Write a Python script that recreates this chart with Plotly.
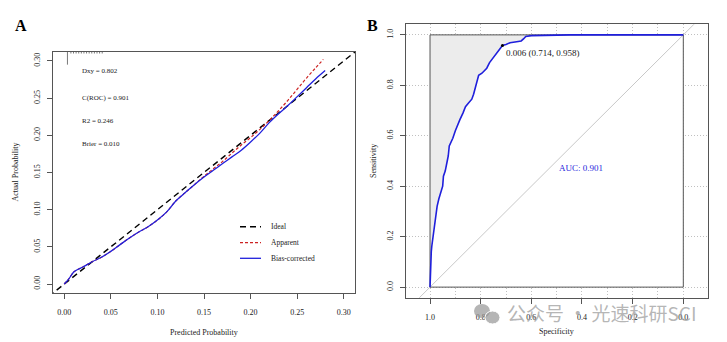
import plotly.graph_objects as go

W, H = 727, 342

# ---------------- Panel A data (calibration) ----------------
cal_pred = [0.0, 0.005, 0.01, 0.015, 0.02, 0.03, 0.04, 0.05, 0.06, 0.07, 0.08, 0.09,
            0.10, 0.11, 0.12, 0.13, 0.14, 0.15, 0.16, 0.17, 0.18, 0.19, 0.20, 0.21,
            0.22, 0.23, 0.24, 0.25, 0.26, 0.27, 0.28]
bias_corrected = [0.0, 0.007, 0.016, 0.020, 0.023, 0.030, 0.036, 0.044, 0.053, 0.062,
                  0.070, 0.077, 0.086, 0.097, 0.112, 0.123, 0.134, 0.144, 0.153, 0.162,
                  0.171, 0.180, 0.191, 0.203, 0.217, 0.229, 0.240, 0.252, 0.264, 0.276, 0.287]
app_pred = [0.0, 0.005, 0.01, 0.015, 0.02, 0.03, 0.04, 0.05, 0.06, 0.07, 0.08, 0.09,
            0.10, 0.11, 0.12, 0.13, 0.14, 0.15, 0.16, 0.17, 0.18, 0.19, 0.20, 0.21,
            0.22, 0.23, 0.24, 0.25, 0.26, 0.27, 0.278]
apparent = [0.0, 0.007, 0.016, 0.020, 0.023, 0.030, 0.036, 0.044, 0.053, 0.062,
            0.070, 0.077, 0.086, 0.097, 0.112, 0.123, 0.134, 0.145, 0.155, 0.165,
            0.176, 0.187, 0.197, 0.208, 0.220, 0.233, 0.247, 0.262, 0.277, 0.291, 0.302]
ideal = [-0.05, 0.35]
rug_x = [0.0035, 0.0072, 0.0100, 0.0128, 0.0156, 0.0184, 0.0212, 0.0240, 0.0268,
         0.0296, 0.0324, 0.0352, 0.0380, 0.0408]
rug_h = [0.0170, 0.0020, 0.0020, 0.0020, 0.0020, 0.0020, 0.0020, 0.0020, 0.0020,
         0.0020, 0.0020, 0.0020, 0.0020, 0.0020]
stats_labels = ["Dxy = 0.802", "C(ROC) = 0.901", "R2 = 0.246", "Brier = 0.010"]
a_ticks = [0.0, 0.05, 0.10, 0.15, 0.20, 0.25, 0.30]
a_ticktext = ["0.00", "0.05", "0.10", "0.15", "0.20", "0.25", "0.30"]
legend_names = ["Ideal", "Apparent", "Bias-corrected"]

# ---------------- Panel B data (ROC) ----------------
roc_spec = [1.0, 0.999, 0.998, 0.995, 0.993, 0.988, 0.983, 0.978, 0.972, 0.965, 0.958,
            0.950, 0.947, 0.940, 0.932, 0.928, 0.924, 0.918, 0.910, 0.900, 0.893, 0.882,
            0.870, 0.860, 0.848, 0.835, 0.828, 0.822, 0.815, 0.808, 0.795, 0.785, 0.776,
            0.765, 0.750, 0.737, 0.724, 0.714, 0.700, 0.684, 0.658, 0.640, 0.630, 0.622,
            0.600, 0.546, 0.500, 0.447, 0.0]
roc_sens = [0.0, 0.06, 0.11, 0.14, 0.162, 0.20, 0.25, 0.28, 0.32, 0.35, 0.375,
            0.40, 0.44, 0.46, 0.50, 0.52, 0.56, 0.571, 0.59, 0.62, 0.64, 0.664,
            0.69, 0.715, 0.73, 0.745, 0.765, 0.789, 0.81, 0.84, 0.848, 0.86, 0.868,
            0.89, 0.91, 0.927, 0.94, 0.958, 0.962, 0.969, 0.973, 0.976, 0.985, 0.994,
            0.997, 0.998, 0.999, 1.0, 1.0]
best_spec, best_sens, best_thr = 0.714, 0.958, 0.006
auc_value = 0.901
box_spec = [1, 0, 0, 1, 1]
box_sens = [0, 0, 1, 1, 0]
diag_spec = [1.2, -0.2]
diag_sens = [-0.2, 1.2]
b_ticks = [1.0, 0.8, 0.6, 0.4, 0.2, 0.0]
b_ticktext = ["1.0", "0.8", "0.6", "0.4", "0.2", "0.0"]
b_yticks = [0.0, 0.2, 0.4, 0.6, 0.8, 1.0]
b_yticktext = ["0.0", "0.2", "0.4", "0.6", "0.8", "1.0"]

SERIF = "Liberation Serif"
BLUE = "#1f1fdc"
RED = "#cc2222"
FRAME = "#555555"
TXT = "#222222"


def fx(p):
    return p / W


def fy(p):
    return 1 - p / H


fig = go.Figure()

# ---- Panel A traces ----
fig.add_trace(go.Scatter(x=ideal, y=ideal, mode="lines", xaxis="x", yaxis="y",
                         line=dict(color="black", width=1.4, dash="6px,4px"), hoverinfo="skip"))
fig.add_trace(go.Scatter(x=app_pred, y=apparent, mode="lines", xaxis="x", yaxis="y",
                         line=dict(color=RED, width=1.2, dash="3px,2px", shape="spline"),
                         hoverinfo="skip"))
fig.add_trace(go.Scatter(x=cal_pred, y=bias_corrected, mode="lines", xaxis="x", yaxis="y",
                         line=dict(color=BLUE, width=1.3, shape="spline"), hoverinfo="skip"))
a_top = 0.312
rx, ry = [], []
for xv, hv in zip(rug_x, rug_h):
    rx += [xv, xv, None]
    ry += [a_top, a_top - hv, None]
fig.add_trace(go.Scatter(x=rx, y=ry, mode="lines", xaxis="x", yaxis="y",
                         line=dict(color="#555555", width=0.8), hoverinfo="skip"))

# ---- Panel B traces ----
fig.add_trace(go.Scatter(x=box_spec, y=box_sens, mode="lines", fill="toself",
                         fillcolor="#ececec", line=dict(width=0), xaxis="x2", yaxis="y2",
                         hoverinfo="skip"))
under_x = roc_spec + [0.0, 1.0]
under_y = roc_sens + [0.0, 0.0]
fig.add_trace(go.Scatter(x=under_x, y=under_y, mode="lines", fill="toself",
                         fillcolor="white", line=dict(width=0), xaxis="x2", yaxis="y2",
                         hoverinfo="skip"))
fig.add_trace(go.Scatter(x=diag_spec, y=diag_sens, mode="lines", xaxis="x2", yaxis="y2",
                         line=dict(color="#c8c8c8", width=1), hoverinfo="skip"))
fig.add_trace(go.Scatter(x=box_spec, y=box_sens, mode="lines", xaxis="x2", yaxis="y2",
                         line=dict(color=FRAME, width=1), hoverinfo="skip"))
fig.add_trace(go.Scatter(x=roc_spec, y=roc_sens, mode="lines", xaxis="x2", yaxis="y2",
                         line=dict(color=BLUE, width=1.6), hoverinfo="skip"))
fig.add_trace(go.Scatter(x=[best_spec], y=[best_sens], mode="markers", xaxis="x2", yaxis="y2",
                         marker=dict(color="black", size=3), hoverinfo="skip"))

tickfont = dict(family=SERIF, size=8, color=TXT)
axA = dict(showline=True, mirror=True, linecolor=FRAME, linewidth=1, ticks="outside",
           ticklen=5, tickcolor=FRAME, tickfont=tickfont, showgrid=False, zeroline=False)
GRID = dict(showgrid=True, gridcolor="#c0c0c0", griddash="1px,2px", gridwidth=1)

fig.update_layout(
    width=W, height=H, margin=dict(l=0, r=0, t=0, b=0),
    paper_bgcolor="white", plot_bgcolor="white", showlegend=False,
    xaxis=dict(domain=[fx(53), fx(355)], range=[-0.012, 0.312], anchor="y",
               tickvals=a_ticks, ticktext=a_ticktext, ticklabelstandoff=6, **axA),
    yaxis=dict(domain=[fy(293), fy(52)], range=[-0.012, 0.312], anchor="x",
               tickvals=a_ticks, ticktext=a_ticktext, tickangle=-90, ticklabelstandoff=4, **axA),
    xaxis2=dict(domain=[fx(405.7), fx(708)], range=[1.096, -0.0975], anchor="y2",
                tickvals=b_ticks, ticktext=b_ticktext, showline=True, mirror=True,
                linecolor=FRAME, linewidth=1, ticks="outside", ticklen=5, tickcolor=FRAME,
                tickfont=tickfont, zeroline=False, ticklabelstandoff=7,
                minor=dict(dtick=0.1, tick0=0, showgrid=True, gridcolor="#c0c0c0",
                           griddash="1px,2px", gridwidth=1, ticks=""), **GRID),
    yaxis2=dict(domain=[fy(297.7), fy(24.3)], range=[-0.042, 1.042], anchor="x2",
                tickvals=b_yticks, ticktext=b_yticktext, tickangle=-90, showline=True,
                mirror=True, linecolor=FRAME, linewidth=1, ticks="outside", ticklen=5,
                tickcolor=FRAME, tickfont=tickfont, zeroline=False, ticklabelstandoff=4,
                **GRID),
)

ann = []
# panel letters
ann.append(dict(x=fx(20.5), y=fy(25.5), text="<b>A</b>", font=dict(family=SERIF, size=16, color="black")))
ann.append(dict(x=fx(373), y=fy(25.5), text="<b>B</b>", font=dict(family=SERIF, size=16, color="black")))
# axis titles
ann.append(dict(x=fx(204), y=fy(332.7), text="Predicted Probability",
                font=dict(family=SERIF, size=8, color=TXT)))
ann.append(dict(x=fx(15), y=fy(172.5), text="Actual Probability", textangle=-90,
                font=dict(family=SERIF, size=8, color=TXT)))
ann.append(dict(x=fx(556.7), y=fy(331.7), text="Specificity",
                font=dict(family=SERIF, size=8, color=TXT)))
ann.append(dict(x=fx(373), y=fy(161), text="Sensitivity", textangle=-90,
                font=dict(family=SERIF, size=8, color=TXT)))
# stats
for lab, yy in zip(stats_labels, [71, 97.5, 120.5, 144]):
    ann.append(dict(x=fx(80), y=fy(yy), text=lab, xanchor="left",
                    font=dict(family=SERIF, size=7, color=TXT)))
# legend text
for lab, yy in zip(legend_names, [226.7, 242.7, 258.3]):
    ann.append(dict(x=fx(269), y=fy(yy), text=lab, xanchor="left",
                    font=dict(family=SERIF, size=7.5, color=TXT)))
# ROC texts
ann.append(dict(x=best_spec, y=best_sens, xref="x2", yref="y2", xanchor="left", yanchor="top",
                xshift=2, yshift=-1,
                text=f"{best_thr:.3f} ({best_spec:.3f}, {best_sens:.3f})",
                font=dict(family=SERIF, size=9, color=TXT)))
ann.append(dict(x=0.5, y=0.5, xref="x2", yref="y2", xanchor="left", yanchor="top",
                text=f"AUC: {auc_value:.3f}", font=dict(family=SERIF, size=9, color=BLUE)))
# watermark
ann.append(dict(x=fx(505), y=fy(312), text="公众号 · 光速科研SCI", xanchor="left",
                font=dict(family="Noto Sans CJK SC", size=19, color="rgba(150,150,150,0.7)")))

for a in ann:
    a.setdefault("xref", "paper")
    a.setdefault("yref", "paper")
    a.setdefault("showarrow", False)
    a.setdefault("xanchor", "center")
    a.setdefault("yanchor", "middle")
fig.update_layout(annotations=ann)

# legend line samples (drawn as shapes in paper coords)
shapes = []
leg_styles = [dict(color="black", width=1.4, dash="6px,4px"),
              dict(color=RED, width=1.2, dash="3px,2px"),
              dict(color=BLUE, width=1.3)]
for st, yy in zip(leg_styles, [226.7, 242.7, 258.3]):
    shapes.append(dict(type="line", xref="paper", yref="paper", x0=fx(240), x1=fx(261),
                       y0=fy(yy), y1=fy(yy), line=st))
# wechat-like icon for watermark
shapes.append(dict(type="circle", xref="paper", yref="paper", x0=fx(474), x1=fx(490),
                   y0=fy(318), y1=fy(304), fillcolor="rgba(150,150,150,0.7)", line=dict(width=0)))
shapes.append(dict(type="circle", xref="paper", yref="paper", x0=fx(485), x1=fx(500),
                   y0=fy(324), y1=fy(311), fillcolor="rgba(150,150,150,0.7)",
                   line=dict(color="white", width=1)))
fig.update_layout(shapes=shapes)

fig.write_html("out.html")
